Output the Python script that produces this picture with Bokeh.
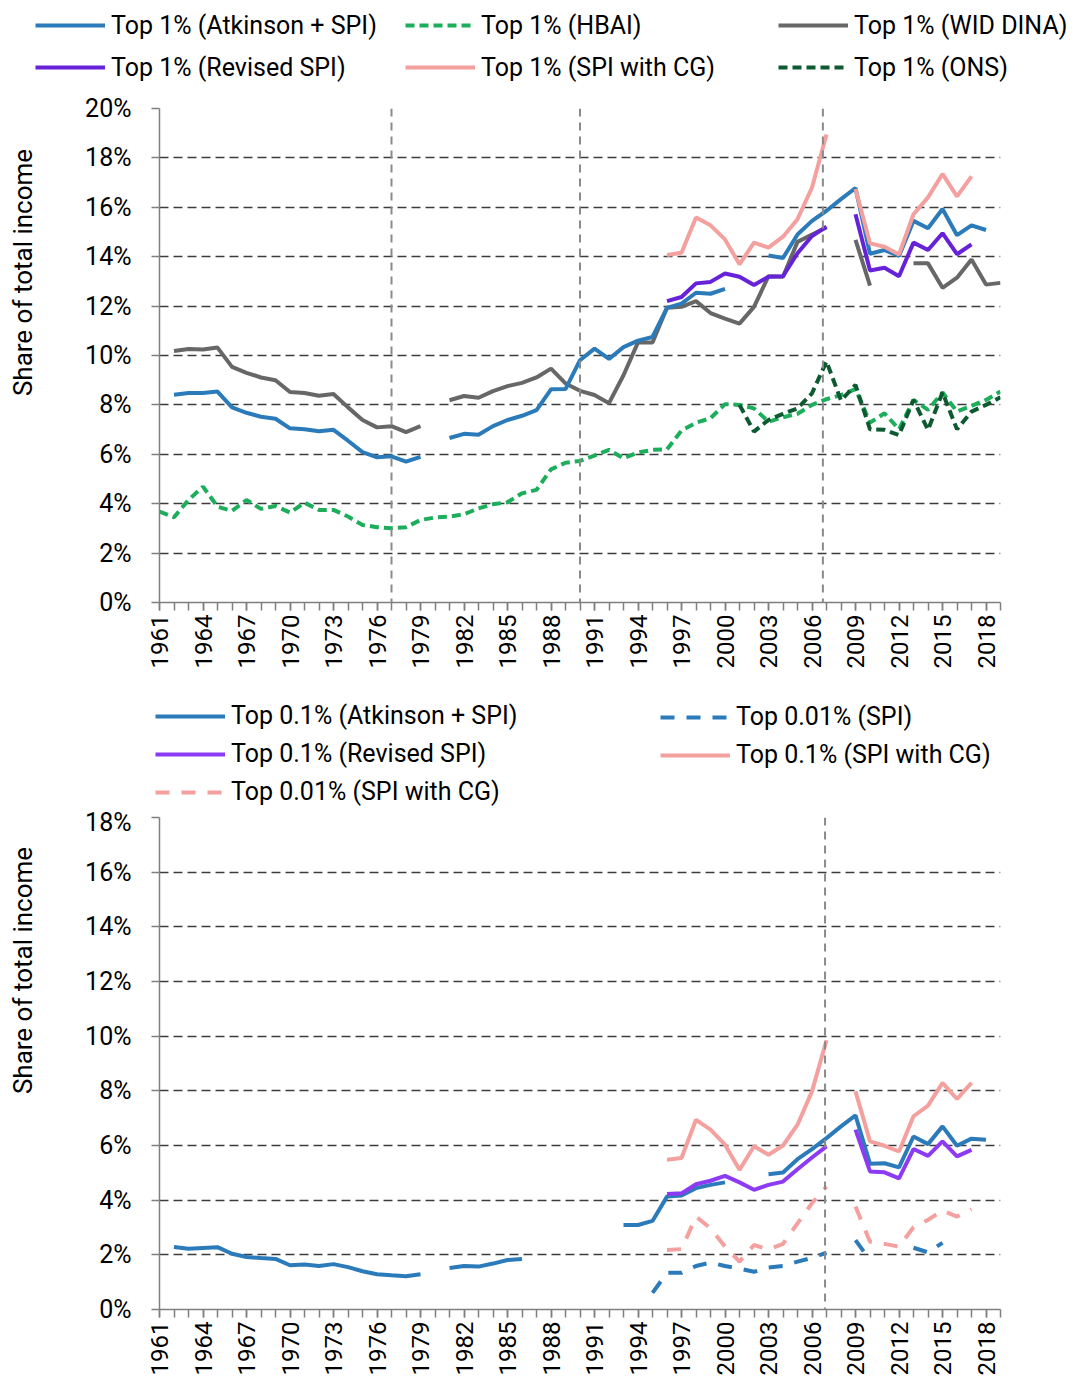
import numpy as np
from bokeh.plotting import figure
from bokeh.models import Range1d, FixedTicker, Span, Legend, LegendItem, Label
from bokeh.layouts import column, row
from bokeh.embed import file_html
from bokeh.resources import INLINE

N = None
years = list(range(1961, 2020))
x_tick_labels = list(range(1961, 2020, 3))

# ---------------- Top chart: Top 1% shares (%) ----------------
top1_atkinson_spi = [
    N, 8.41, 8.48, 8.48, 8.54, 7.90, 7.68, 7.52, 7.44,                      # 1961-69
    7.05, 7.01, 6.93, 6.99, 6.55, 6.09, 5.88, 5.92, 5.70, 5.90,             # 1970s
    N, 6.66, 6.83, 6.79, 7.14, 7.39, 7.56, 7.79, 8.63, 8.64,                # 1980s
    9.81, 10.28, 9.86, 10.34, 10.60, 10.75, 11.93, 12.10, 12.54, 12.50,     # 1990s
    12.70, N, N, 14.05, 13.95, 14.90, 15.45, 15.86, 16.33, 16.78,           # 2000s
    14.12, 14.27, 14.03, 15.45, 15.15, 15.93, 14.87, 15.27, 15.08, N]       # 2010s
top1_revised_spi = [
    N, N, N, N, N, N, N, N, N,
    N, N, N, N, N, N, N, N, N, N,
    N, N, N, N, N, N, N, N, N, N,
    N, N, N, N, N, N, 12.20, 12.37, 12.92, 12.98,
    13.32, 13.19, 12.85, 13.19, 13.21, 14.14, 14.84, 15.22, N, 15.72,
    13.44, 13.55, 13.21, 14.57, 14.27, 14.95, 14.10, 14.50, N, N]
top1_spi_cg = [
    N, N, N, N, N, N, N, N, N,
    N, N, N, N, N, N, N, N, N, N,
    N, N, N, N, N, N, N, N, N, N,
    N, N, N, N, N, N, 14.07, 14.16, 15.59, 15.27,
    14.70, 13.69, 14.57, 14.37, 14.81, 15.52, 16.80, 18.95, N, 16.74,
    14.54, 14.40, 14.09, 15.72, 16.40, 17.35, 16.44, 17.25, N, N]
top1_wid_dina = [
    N, 10.18, 10.26, 10.24, 10.32, 9.54, 9.30, 9.11, 9.00,
    8.52, 8.48, 8.37, 8.44, 7.90, 7.39, 7.09, 7.14, 6.90, 7.14,
    N, 8.19, 8.36, 8.29, 8.56, 8.76, 8.89, 9.11, 9.47, 8.87,
    8.57, 8.40, 8.07, 9.20, 10.53, 10.53, 11.93, 11.97, 12.20, 11.72,
    11.49, 11.29, 11.97, 13.21, 13.19, 14.60, 14.90, 15.18, N, 14.68,
    12.83, N, N, 13.73, 13.73, 12.74, 13.15, 13.89, 12.87, 12.94]
top1_hbai = [
    3.68, 3.45, 4.15, 4.69, 3.88, 3.71, 4.15, 3.79, 3.91,
    3.64, 4.04, 3.75, 3.75, 3.48, 3.14, 3.05, 3.01, 3.05, 3.34,
    3.44, 3.48, 3.57, 3.81, 3.98, 4.06, 4.42, 4.56, 5.39, 5.66,
    5.73, 5.95, 6.18, 5.84, 6.07, 6.18, 6.20, 6.96, 7.28, 7.46,
    8.03, 8.00, 7.86, 7.32, 7.50, 7.64, 8.00, 8.23, 8.40, 8.64,
    7.28, 7.66, 7.01, 8.20, 7.80, 8.50, 7.73, 7.96, 8.20, 8.54]
top1_ons = [
    N, N, N, N, N, N, N, N, N,
    N, N, N, N, N, N, N, N, N, N,
    N, N, N, N, N, N, N, N, N, N,
    N, N, N, N, N, N, N, N, N, N,
    N, 8.00, 6.92, 7.39, 7.64, 7.86, 8.47, 9.76, 8.18, 8.81,
    7.01, 6.99, 6.78, 8.20, 6.99, 8.50, 7.01, 7.73, 8.00, 8.31]

# ---------------- Bottom chart: Top 0.1% / 0.01% shares (%) ----------------
top01_atkinson_spi = [
    N, 2.29, 2.22, 2.25, 2.28, 2.04, 1.92, 1.88, 1.85,
    1.62, 1.65, 1.59, 1.66, 1.55, 1.40, 1.29, 1.25, 1.22, 1.29,
    N, 1.52, 1.59, 1.57, 1.68, 1.81, 1.85, N, N, N,
    N, N, N, 3.09, 3.09, 3.24, 4.13, 4.17, 4.44, 4.56,
    4.65, N, N, 4.95, 5.01, 5.50, 5.87, 6.27, 6.70, 7.10,
    5.33, 5.35, 5.20, 6.33, 6.05, 6.70, 5.99, 6.25, 6.21, N]
top01_revised_spi = [
    N, N, N, N, N, N, N, N, N,
    N, N, N, N, N, N, N, N, N, N,
    N, N, N, N, N, N, N, N, N, N,
    N, N, N, N, N, N, 4.23, 4.25, 4.58, 4.71,
    4.89, 4.65, 4.38, 4.56, 4.68, 5.13, 5.56, 5.97, N, 6.58,
    5.05, 5.02, 4.80, 5.87, 5.62, 6.15, 5.60, 5.84, N, N]
top01_spi_cg = [
    N, N, N, N, N, N, N, N, N,
    N, N, N, N, N, N, N, N, N, N,
    N, N, N, N, N, N, N, N, N, N,
    N, N, N, N, N, N, 5.48, 5.54, 6.94, 6.58,
    6.03, 5.11, 5.97, 5.66, 6.00, 6.76, 7.98, 9.85, N, 7.98,
    6.15, 5.99, 5.78, 7.07, 7.46, 8.29, 7.70, 8.29, N, N]
top001_spi_cg = [
    N, N, N, N, N, N, N, N, N,
    N, N, N, N, N, N, N, N, N, N,
    N, N, N, N, N, N, N, N, N, N,
    N, N, N, N, N, N, 2.18, 2.21, 3.40, 2.97,
    2.30, 1.75, 2.36, 2.20, 2.40, 3.15, 3.89, 4.50, N, 3.77,
    2.48, 2.40, 2.30, 3.01, 3.28, 3.62, 3.40, 3.67, N, N]
top001_spi = [
    N, N, N, N, N, N, N, N, N,
    N, N, N, N, N, N, N, N, N, N,
    N, N, N, N, N, N, N, N, N, N,
    N, N, N, N, N, 0.61, 1.34, 1.34, 1.59, 1.72,
    1.59, 1.50, 1.38, 1.54, 1.59, 1.75, 1.89, 2.08, N, 2.54,
    1.80, N, N, 2.26, 2.09, 2.44, N, N, N, N]

top_breaks = [1977, 1990, 2006.75]
bottom_breaks = [2006.9]
y_title = "Share of total income"

FONT = "Roboto"
BLUE = "#2b7bba"
PURPLE_TOP = "#6622d8"
PURPLE_BOT = "#8d3bf3"
PINK = "#f4a09e"
GRAY = "#676767"
GREEN = "#1dae5b"
DKGREEN = "#0d5a31"
LW = 4

# series styles: key -> (color, dash)
STY = {
    "atk": (BLUE, "solid"), "rev": (PURPLE_TOP, "solid"), "hbai": (GREEN, "9 5"),
    "cg": (PINK, "solid"), "wid": (GRAY, "solid"), "ons": (DKGREEN, "9 5"),
    "atk01": (BLUE, "solid"), "rev01": (PURPLE_BOT, "solid"), "cg001": (PINK, "14 12"),
    "spi001": (BLUE, "14 12"), "cg01": (PINK, "solid"),
}


def arr(v):
    return np.array([np.nan if a is None else a for a in v], dtype=float)


def blank_fig(width, height):
    f = figure(width=width, height=height, x_range=Range1d(0, 1), y_range=Range1d(0, 1),
               output_backend="svg", toolbar_location=None,
               x_axis_location=None, y_axis_location=None,
               min_border=0, min_border_left=0, min_border_right=0,
               min_border_top=0, min_border_bottom=0)
    f.outline_line_color = None
    f.grid.visible = False
    f.background_fill_color = "white"
    f.border_fill_color = "white"
    return f


def make_fig(height, ymax, border_top, border_bottom):
    p = figure(width=1036, height=height,
               x_range=Range1d(1961, 2019), y_range=Range1d(0, ymax),
               output_backend="svg", toolbar_location=None,
               min_border_left=119, min_border_right=76,
               min_border_top=border_top, min_border_bottom=border_bottom)
    p.outline_line_color = None
    p.background_fill_color = "white"
    p.border_fill_color = "white"
    p.xgrid.grid_line_color = None
    yt = list(range(0, ymax + 1, 2))
    p.ygrid.ticker = FixedTicker(ticks=yt[1:])
    p.ygrid.grid_line_color = "#3c3c3c"
    p.ygrid.grid_line_dash = "9 5"
    p.ygrid.grid_line_width = 1.5

    p.xaxis.ticker = FixedTicker(ticks=x_tick_labels, minor_ticks=years)
    p.xaxis.major_label_orientation = np.pi / 2
    p.yaxis.ticker = FixedTicker(ticks=yt)
    p.yaxis.major_label_overrides = {t: f"{t}%" for t in yt}
    for ax in (p.xaxis[0], p.yaxis[0]):
        ax.axis_line_color = "#7f7f7f"
        ax.axis_line_width = 1.5
        ax.major_tick_line_color = "#7f7f7f"
        ax.major_tick_line_width = 1.5
        ax.minor_tick_line_color = "#7f7f7f"
        ax.minor_tick_line_width = 1.5
        ax.major_tick_in = 0
        ax.major_tick_out = 8
        ax.minor_tick_in = 0
        ax.major_label_text_font = FONT
        ax.major_label_text_color = "#000000"
    p.xaxis.minor_tick_out = 8
    p.yaxis.minor_tick_out = 0
    p.xaxis.major_label_text_font_size = "24px"
    p.xaxis.major_label_standoff = 4
    p.yaxis.major_label_text_font_size = "25px"
    p.yaxis.major_label_standoff = 20
    return p


def title_fig(height, y_center_from_frame_bottom):
    # this narrow figure shares the frame bounds of the chart beside it
    f = blank_fig(40, height)
    f.add_layout(Label(x=22, y=y_center_from_frame_bottom, x_units="screen", y_units="screen",
                       text=y_title, angle=np.pi / 2, text_align="center",
                       text_baseline="middle", text_font=FONT, text_font_size="26px",
                       text_color="#000000"))
    return f


def legend_block(f, entries, loc, spacing, item_h):
    items = []
    for label, data, key in entries:
        color, dash = STY[key]
        # same series drawn in the legend strip (outside its visible range): only its key shows
        r = f.line(np.array(years, dtype=float), arr(data), line_color=color,
                   line_width=LW, line_dash=dash)
        items.append(LegendItem(label=label, renderers=[r]))
    f.add_layout(Legend(items=items, location=loc, orientation="vertical",
                        padding=0, margin=0, spacing=spacing,
                        glyph_width=70, glyph_height=item_h, label_height=item_h,
                        label_standoff=6, border_line_color=None,
                        background_fill_alpha=0,
                        label_text_font=FONT, label_text_font_size="25px",
                        label_text_color="#000000"))


def add_series(p, data, key):
    color, dash = STY[key]
    return p.line(np.array(years, dtype=float), arr(data), line_color=color,
                  line_width=LW, line_dash=dash)


# ---------- top legend ----------
lf1 = blank_fig(1076, 92)
legend_block(lf1, [("Top 1% (Atkinson + SPI)", top1_atkinson_spi, "atk"),
                   ("Top 1% (Revised SPI)", top1_revised_spi, "rev")], (35, 10), 12, 30)
legend_block(lf1, [("Top 1% (HBAI)", top1_hbai, "hbai"),
                   ("Top 1% (SPI with CG)", top1_spi_cg, "cg")], (405, 10), 12, 30)
legend_block(lf1, [("Top 1% (WID DINA)", top1_wid_dina, "wid"),
                   ("Top 1% (ONS)", top1_ons, "ons")], (778, 10), 12, 30)

# ---------- top chart ----------
p1 = make_fig(608, 20, 16, 98)
for b in top_breaks:
    p1.add_layout(Span(location=b, dimension="height", line_color="#8a8a8a",
                       line_dash="8 6", line_width=2))
add_series(p1, top1_hbai, "hbai")
add_series(p1, top1_ons, "ons")
add_series(p1, top1_wid_dina, "wid")
add_series(p1, top1_atkinson_spi, "atk")
add_series(p1, top1_spi_cg, "cg")
add_series(p1, top1_revised_spi, "rev")
tf1 = title_fig(608, 330)

# ---------- bottom legend ----------
lf2 = blank_fig(1076, 107)
legend_block(lf2, [("Top 0.1% (Atkinson + SPI)", top01_atkinson_spi, "atk01"),
                   ("Top 0.1% (Revised SPI)", top01_revised_spi, "rev01"),
                   ("Top 0.01% (SPI with CG)", top001_spi_cg, "cg001")], (155, 1), 9, 28)
legend_block(lf2, [("Top 0.01% (SPI)", top001_spi, "spi001"),
                   ("Top 0.1% (SPI with CG)", top01_spi_cg, "cg01")], (660, 38), 9, 28)

# ---------- bottom chart ----------
p2 = make_fig(580, 18, 10, 78)
for b in bottom_breaks:
    p2.add_layout(Span(location=b, dimension="height", line_color="#8a8a8a",
                       line_dash="8 6", line_width=2))
add_series(p2, top001_spi, "spi001")
add_series(p2, top001_spi_cg, "cg001")
add_series(p2, top01_atkinson_spi, "atk01")
add_series(p2, top01_spi_cg, "cg01")
add_series(p2, top01_revised_spi, "rev01")
tf2 = title_fig(580, 339)

layout = column(lf1, row(tf1, p1, spacing=0), lf2, row(tf2, p2, spacing=0), spacing=0)
open("out.html", "w").write(file_html(layout, INLINE))
